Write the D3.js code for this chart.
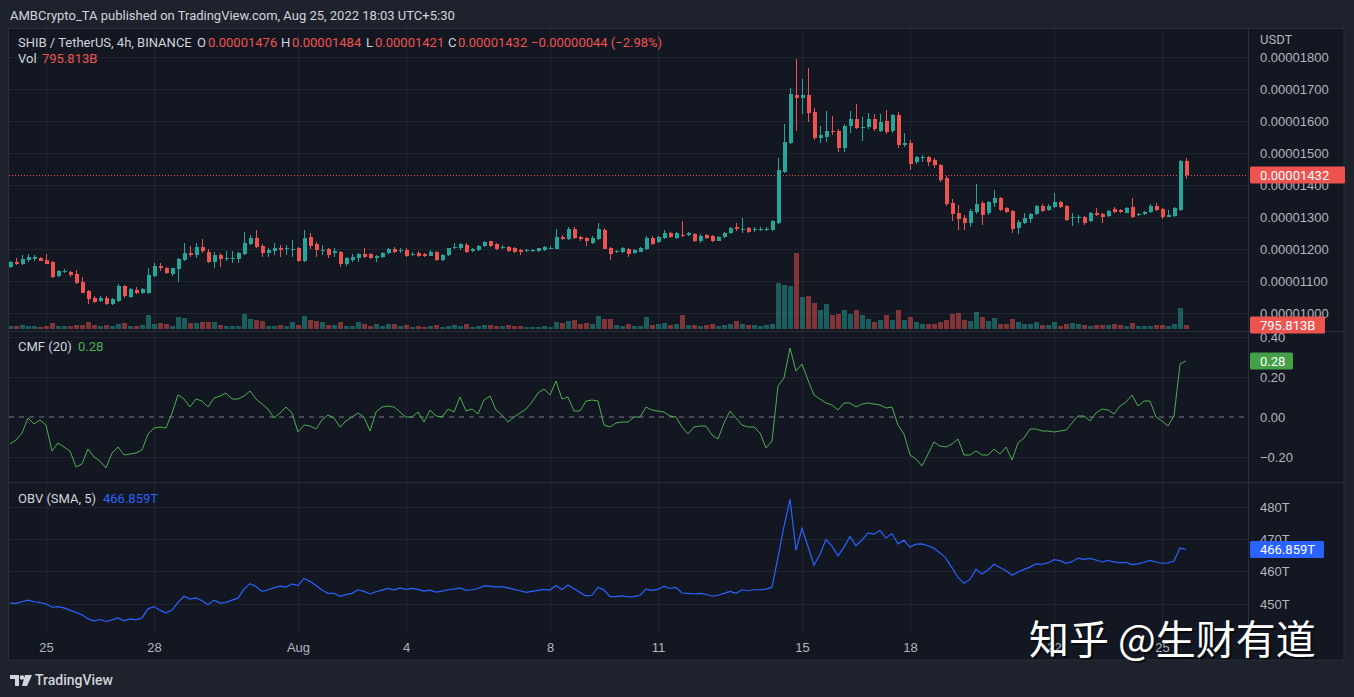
<!DOCTYPE html>
<html lang="en">
<head>
<meta charset="utf-8">
<title>SHIB / TetherUS 4h</title>
<script src="https://cdn.jsdelivr.net/npm/d3@7"></script>
<style>
  body { margin: 0; background: #1e222d; overflow: hidden; }
  svg { display: block; font-family: Roboto, "Noto Sans", sans-serif; }
  .axis text { fill: #b2b5be; font-size: 13px; }
  .axis path, .axis line { display: none; }
</style>
</head>
<body>
<svg id="chart" width="1354" height="697"></svg>
<script>
// 4h candles from Jul 24 2022 00:00 UTC, prices in units of 1e-8 USDT
var opens = [
  1143,1159,1152,1166,1170,1172,1166,1159,1116,1127,
  1128,1122,1098,1069,1048,1038,1046,1028,1039,1085,
  1051,1072,1062,1062,1117,1148,1140,1121,1138,1166,
  1187,1182,1208,1192,1161,1182,1170,1170,1169,1185,
  1216,1234,1211,1189,1195,1203,1200,1197,1203,1164,
  1237,1216,1194,1199,1189,1192,1152,1166,1171,1185,
  1184,1171,1174,1187,1200,
  1194,1197,1182,1187,1184,1179,1192,1166,1182,1203,1203,1213,1194,1197,1211,
  1224,1215,1203,1208,1203,1197,1194,1193,1195,1197,
  1202,1201,1239,1232,1262,1239,1236,1220,1232,1260,
  1203,1190,1190,1200,1187,1192,1201,1236,1221,1236,
  1250,1236,1244,1244,1246,1224,1244,1242,1227,1239,
  1250,1270,1260,1265,1259,1260,1261,1260,
  1283,1441,1532,1684,1672,1684,1630,1548,1551,1571,
  1569,1518,1585,1609,1579,1581,1609,1571,1602,1569,
  1620,1526,1532,1472,1486,1487,1478,1462,1423,1344,
  1313,1298,1283,1316,1344,
  1312,1343,1359,1328,1320,1265,1283,1294,1310,1335,
  1322,1333,1349,1335,1296,1297,1302,1289,1314,1310,
  1304,1325,1322,1314,1331,1307,1310,1317,1336,1326,
  1302,1305,1322,1476
];
var highs = [
  1164,1171,1182,1184,1182,1176,1185,1163,1135,1138,
  1133,1135,1114,1072,1053,1053,1053,1046,1090,1088,
  1077,1080,1077,1140,1156,1156,1143,1142,1171,1218,
  1210,1218,1231,1200,1192,1187,1194,1194,1192,1255,
  1244,1260,1215,1203,1218,1213,1213,1229,1208,1260,
  1250,1223,1213,1203,1203,1195,1174,1185,1189,1203,
  1187,1182,1192,1205,1208,
  1204,1203,1192,1194,1187,1197,1195,1184,1205,1218,1220,1218,1203,1213,1227,
  1227,1218,1212,1211,1206,1200,1199,1200,1205,1210,
  1210,1262,1244,1270,1270,1242,1239,1241,1283,1265,
  1208,1197,1206,1203,1200,1208,1242,1241,1241,1260,
  1255,1255,1289,1255,1250,1246,1248,1245,1242,1255,
  1268,1281,1297,1268,1268,1270,1270,1292,
  1484,1593,1703,1796,1733,1767,1642,1587,1633,1618,
  1575,1593,1633,1654,1614,1626,1624,1624,1636,1624,
  1630,1563,1541,1492,1496,1492,1484,1465,1429,1356,
  1338,1307,1326,1405,1350,
  1352,1385,1362,1333,1324,1290,1312,1313,1338,1340,
  1340,1377,1352,1338,1312,1307,1305,1317,1328,1312,
  1322,1333,1325,1331,1359,1314,1320,1340,1343,1328,
  1322,1331,1480,1484
];
var lows = [
  1140,1150,1150,1161,1163,1163,1152,1109,1114,1124,
  1114,1091,1062,1028,1032,1036,1025,1024,1036,1046,
  1048,1059,1060,1059,1114,1133,1121,1116,1096,1163,
  1176,1171,1187,1156,1142,1145,1163,1158,1156,1182,
  1213,1203,1174,1176,1182,1176,1182,1176,1161,1161,
  1200,1176,1182,1171,1176,1143,1148,1161,1159,1171,
  1168,1161,1171,1184,1189,
  1187,1174,1177,1174,1176,1177,1163,1164,1180,1200,1197,1187,1190,1194,1208,
  1208,1198,1200,1192,1187,1182,1190,1190,1192,1195,
  1199,1199,1230,1230,1233,1225,1210,1217,1230,1199,
  1166,1187,1187,1174,1184,1190,1197,1212,1218,1233,
  1236,1233,1238,1240,1222,1220,1233,1222,1224,1236,
  1247,1258,1250,1250,1255,1256,1257,1258,
  1280,1438,1528,1569,1624,1599,1541,1532,1536,1557,
  1504,1504,1563,1575,1538,1575,1569,1566,1560,1563,
  1517,1520,1447,1468,1472,1459,1453,1411,1334,1289,
  1259,1259,1268,1310,1277,
  1308,1333,1318,1312,1249,1247,1280,1281,1307,1317,
  1319,1330,1328,1288,1272,1281,1276,1286,1304,1281,
  1300,1314,1314,1312,1299,1305,1307,1314,1319,1294,
  1300,1302,1320,1421
];
var closes = [
  1159,1152,1169,1176,1174,1164,1154,1114,1133,1131,
  1119,1093,1064,1044,1036,1046,1028,1043,1086,1053,
  1074,1062,1075,1119,1148,1140,1124,1140,1169,1187,
  1182,1208,1194,1161,1182,1169,1173,1173,1187,1218,
  1234,1208,1187,1197,1203,1197,1202,1200,1164,1234,
  1211,1197,1197,1182,1194,1152,1171,1176,1185,1176,
  1171,1180,1189,1200,1192,
  1197,1180,1185,1180,1179,1192,1166,1182,1203,1208,1215,1190,1199,1210,1223,
  1211,1201,1208,1194,1190,1192,1196,1197,1203,1206,
  1205,1239,1232,1262,1236,1231,1224,1236,1263,1201,
  1185,1194,1203,1184,1197,1205,1236,1215,1238,1252,
  1239,1250,1241,1250,1226,1242,1236,1226,1239,1252,
  1265,1262,1262,1255,1262,1263,1264,1289,
  1447,1536,1687,1672,1684,1626,1548,1557,1571,1566,
  1518,1587,1609,1579,1583,1609,1575,1599,1566,1620,
  1526,1532,1468,1487,1490,1472,1462,1417,1341,1310,
  1293,1283,1320,1340,1307,
  1349,1359,1322,1317,1262,1286,1296,1310,1335,1320,
  1336,1346,1331,1291,1300,1302,1283,1314,1307,1302,
  1319,1317,1317,1328,1302,1310,1317,1336,1322,1300,
  1307,1328,1477,1432
];
// volume, billions SHIB
var volumes = [
  540,540,800,540,540,400,540,1140,540,540,
  660,800,860,1340,860,660,800,660,1000,1200,
  660,660,860,2800,1000,1140,1000,660,2340,2140,
  1140,1140,1340,1340,1460,860,660,660,660,3000,
  2000,1800,1660,660,660,800,660,1340,860,2540,
  1860,1540,1340,860,860,1340,660,660,1340,940,
  660,1000,660,1000,1000,
  600,800,460,600,460,600,800,460,600,800,600,940,460,600,800,
  800,660,540,800,660,660,460,460,460,540,
  460,1340,1140,1660,1800,1000,1140,1000,2660,2000,
  2000,800,660,1000,540,660,2460,800,1000,1140,
  800,1000,2800,800,800,540,800,1000,660,800,
  1000,1540,1000,800,800,660,800,1000,
  9320,8780,8700,15300,6450,6600,5200,3730,5050,2870,
  3100,3880,3100,3880,2720,2100,1320,1790,2870,1790,
  3880,1790,2490,1320,1010,1010,1010,1320,1790,3100,
  3260,1790,1550,3420,2490,
  1670,2130,1000,1000,2000,1330,1000,1000,1330,870,
  870,1470,670,1000,1200,1000,870,670,870,870,
  870,1000,870,670,1200,670,670,670,870,870,
  670,1000,4200,795.813
];
var cmf = [
  -0.135,-0.115,-0.08,-0.005,-0.035,-0.015,-0.04,-0.17,-0.13,-0.15,
  -0.17,-0.25,-0.235,-0.16,-0.2,-0.22,-0.255,-0.18,-0.15,-0.19,
  -0.185,-0.18,-0.165,-0.085,-0.055,-0.05,-0.055,0.02,0.11,0.09,
  0.05,0.09,0.08,0.05,0.095,0.105,0.12,0.09,0.09,0.105,
  0.13,
  0.09,0.065,0.04,-0.005,0.02,0.05,0.02,-0.075,-0.04,-0.045,
  -0.06,-0.015,0.01,-0.005,-0.05,-0.02,0.0,0.02,0.0,-0.07,
  0.025,0.05,0.055,0.05,0.025,0.0,0.0,0.025,-0.025,0.035,
  0.005,0.0,0.04,0.025,0.1,0.03,0.04,0.015,0.085,0.105,
  0.035,0.01,-0.025,0.0,0.02,0.04,0.075,0.12,0.14,0.11,
  0.18,0.09,0.1,0.03,0.03,0.08,0.085,0.08,-0.04,-0.05,
  -0.03,-0.025,-0.025,0.0,0.0,0.05,0.035,0.03,0.025,0.005,
  0.0,-0.05,-0.085,-0.05,-0.045,-0.045,-0.09,-0.11,-0.03,0.03,
  -0.005,-0.04,-0.05,-0.05,-0.08,-0.155,-0.12,0.155,0.195,
  0.345,0.23,0.265,0.185,0.11,0.09,0.07,0.06,0.035,0.07,
  0.07,0.05,0.065,0.07,0.065,0.06,0.045,0.05,-0.04,-0.085,
  -0.19,-0.21,-0.245,-0.185,-0.125,-0.145,-0.15,-0.135,-0.11,-0.19,
  -0.19,-0.17,-0.19,
  -0.19,-0.16,-0.185,-0.15,-0.215,-0.13,-0.105,-0.06,-0.06,-0.07,
  -0.07,-0.075,-0.07,-0.065,-0.03,0.005,0.005,-0.02,0.02,0.04,
  0.035,0.015,0.055,0.075,0.11,0.055,0.08,0.08,0.0,-0.02,
  -0.045,0.005,0.265,0.28
];
// OBV (SMA 5), trillions
var obv = [
  450.3,450.2,450.7,451.2,450.7,450.5,450,449,449.2,448.8,
  448.1,447.4,446.7,445.4,444.8,445.2,444.6,445.1,445.7,444.8,
  445.4,445.1,445.7,448.5,449.2,448.1,447.2,448.1,450.5,452.4,
  451.5,451.9,451,449.8,451.2,450.3,450.5,451.2,451.8,454.6,
  456.3,
  455.4,453.9,454.4,455.0,455.5,455.2,456.2,455.7,457.9,457.0,
  455.7,454.3,453.3,453.3,452.4,452.9,453.3,454.4,453.9,453.1,
  453.8,454.3,454.8,454.4,455.0,454.5,454.8,454.5,454.0,454.3,
  453.7,454.0,454.4,454.6,455.0,454.2,454.4,454.8,455.6,455.5,
  455.2,455.4,455.0,454.5,454.1,453.6,453.9,454.2,454.5,454.3,
  455.7,454.5,455.9,454.7,453.6,452.5,452.7,455.2,454.3,452.3,
  452.3,452.5,452.2,452.3,452.7,454.6,454.2,454.5,455.5,454.8,
  455.1,453.4,453.3,453.1,453.3,453.0,452.4,452.7,453.3,453.9,
  453.3,454.4,454.1,454.4,454.4,454.6,455.2,
  464.5,474.0,482.4,466.6,473.4,467.8,462.0,465.4,470.0,467.9,
  464.9,467.6,470.9,468.0,469.8,472.0,471.6,472.7,470.4,471.8,
  468.6,469.7,467.6,468.5,468.6,468.0,467.2,465.8,464.1,461.2,
  458.2,456.4,457.6,460.8,459.3,
  460.5,462.3,461.3,460.3,458.9,459.9,460.7,461.4,462.4,462.3,
  462.7,463.7,463.4,462.6,463.1,464.2,463.8,464.1,463.6,463.0,
  463.5,463.0,462.7,462.9,462.2,462.4,462.9,463.5,463.0,462.6,
  462.7,463.3,467.3,466.859
];

var priceTicks = [1000,1100,1200,1300,1400,1500,1600,1700,1800];
var cmfTicks = [-0.2,0,0.2,0.4];
var cmfTickLabels = ["\u22120.20","0.00","0.20","0.40"];
var obvTicks = [450,460,470,480];
var timeTicks = [Date.UTC(2022,6,25),Date.UTC(2022,6,28),Date.UTC(2022,7,1),Date.UTC(2022,7,4),
  Date.UTC(2022,7,8),Date.UTC(2022,7,11),Date.UTC(2022,7,15),Date.UTC(2022,7,18),
  Date.UTC(2022,7,22),Date.UTC(2022,7,25)];
var timeLabels = ["25","28","Aug","4","8","11","15","18","22","25"];

var upColor = "#26a69a", downColor = "#ef5350";
var upVol = "rgba(38,166,154,0.5)", downVol = "rgba(239,83,80,0.5)";
var textColor = "#d1d4dc", gridColor = "#20242f", lineColor = "#2a2e39";

var plotL = 9, plotR = 1248, frameR = 1344;
var mainTop = 29, mainBot = 331, cmfBot = 482, obvBot = 632, frameBot = 660;

var t0 = Date.UTC(2022, 6, 24, 0);
var dates = closes.map(function(d, i) { return new Date(t0 + i * 4 * 3600 * 1000); });

var x = d3.scaleUtc().domain([new Date(timeTicks[0]), new Date(timeTicks[9])]).range([46, 1162]);
var y = d3.scaleLinear().domain([1000, 1800]).range([313, 57.5]);
var yVol = d3.scaleLinear().domain([0, 15300]).range([329, 253]);
var yCmf = d3.scaleLinear().domain([-0.2, 0.2]).range([457, 377]);
var yObv = d3.scaleLinear().domain([450, 480]).range([604, 507]);

var svg = d3.select("#chart");

// title
svg.append("text").attr("x", 10).attr("y", 20).attr("fill", textColor)
  .attr("font-size", "13px")
  .text("AMBCrypto_TA published on TradingView.com, Aug 25, 2022 18:03 UTC+5:30");

// chart frame
svg.append("rect").attr("x", 8.5).attr("y", 28.5).attr("width", frameR - 8.5).attr("height", frameBot - 28.5)
  .attr("fill", "#131722").attr("stroke", lineColor);

var defs = svg.append("defs");
function clip(id, top, bot) {
  defs.append("clipPath").attr("id", id).append("rect")
    .attr("x", plotL).attr("y", top).attr("width", plotR - plotL).attr("height", bot - top);
}
clip("cMain", mainTop, mainBot);
clip("cCmf", mainBot, cmfBot);
clip("cObv", cmfBot, obvBot);

// grid
var grid = svg.append("g").attr("shape-rendering", "crispEdges").attr("stroke", gridColor);
timeTicks.forEach(function(t) {
  grid.append("line").attr("x1", Math.round(x(t)) + 0.5).attr("x2", Math.round(x(t)) + 0.5)
    .attr("y1", mainTop).attr("y2", obvBot);
});
priceTicks.forEach(function(v) {
  grid.append("line").attr("x1", plotL).attr("x2", plotR).attr("y1", y(v)).attr("y2", y(v));
});
[-0.2, 0.2, 0.4].forEach(function(v) {
  grid.append("line").attr("x1", plotL).attr("x2", plotR).attr("y1", yCmf(v)).attr("y2", yCmf(v));
});
obvTicks.forEach(function(v) {
  grid.append("line").attr("x1", plotL).attr("x2", plotR).attr("y1", yObv(v)).attr("y2", yObv(v));
});

// pane separators
var sep = svg.append("g").attr("stroke", lineColor).attr("shape-rendering", "crispEdges");
sep.append("line").attr("x1", plotL).attr("x2", frameR).attr("y1", mainBot + 0.5).attr("y2", mainBot + 0.5);
sep.append("line").attr("x1", plotL).attr("x2", frameR).attr("y1", cmfBot + 0.5).attr("y2", cmfBot + 0.5);
sep.append("line").attr("x1", plotR + 0.5).attr("x2", plotR + 0.5).attr("y1", mainTop).attr("y2", frameBot);

// volume
var idx = d3.range(closes.length);
var main = svg.append("g").attr("clip-path", "url(#cMain)");
main.append("g").attr("shape-rendering", "crispEdges").selectAll("rect").data(idx).enter().append("rect")
  .attr("x", function(i) { return Math.round(x(dates[i])) - 2; })
  .attr("width", 5)
  .attr("y", function(i) { return yVol(volumes[i]); })
  .attr("height", function(i) { return yVol(0) - yVol(volumes[i]); })
  .attr("fill", function(i) { return closes[i] >= opens[i] ? upVol : downVol; });

// last price line
main.append("line").attr("x1", plotL).attr("x2", plotR)
  .attr("y1", Math.round(y(1432)) + 0.5).attr("y2", Math.round(y(1432)) + 0.5)
  .attr("stroke", downColor).attr("stroke-dasharray", "1,2");

// candles
var candles = main.append("g").attr("shape-rendering", "crispEdges").selectAll("g").data(idx).enter().append("g");
candles.append("line")
  .attr("x1", function(i) { return Math.round(x(dates[i])) + 0.5; })
  .attr("x2", function(i) { return Math.round(x(dates[i])) + 0.5; })
  .attr("y1", function(i) { return y(highs[i]); })
  .attr("y2", function(i) { return y(lows[i]); })
  .attr("stroke", function(i) { return closes[i] >= opens[i] ? upColor : downColor; });
candles.append("rect")
  .attr("x", function(i) { return Math.round(x(dates[i])) - 1; })
  .attr("width", 4)
  .attr("y", function(i) { return y(Math.max(opens[i], closes[i])); })
  .attr("height", function(i) { return Math.max(1, Math.abs(y(opens[i]) - y(closes[i]))); })
  .attr("fill", function(i) { return closes[i] >= opens[i] ? upColor : downColor; });

// CMF
var cmfG = svg.append("g").attr("clip-path", "url(#cCmf)");
cmfG.append("line").attr("x1", plotL).attr("x2", plotR).attr("y1", yCmf(0)).attr("y2", yCmf(0))
  .attr("stroke", "#787b86").attr("stroke-dasharray", "5,5");
cmfG.append("path").datum(idx)
  .attr("d", d3.line().x(function(i) { return x(dates[i]); }).y(function(i) { return yCmf(cmf[i]); }))
  .attr("fill", "none").attr("stroke", "#4caf50").attr("stroke-width", 1);

// OBV
var obvG = svg.append("g").attr("clip-path", "url(#cObv)");
obvG.append("path").datum(idx)
  .attr("d", d3.line().x(function(i) { return x(dates[i]); }).y(function(i) { return yObv(obv[i]); }))
  .attr("fill", "none").attr("stroke", "#2962ff").attr("stroke-width", 1.2);

// right axes
var fmtPrice = function(v) { return d3.format(".8f")(v * 1e-8); };
svg.append("g").attr("class", "axis").attr("transform", "translate(" + plotR + ",0)")
  .call(d3.axisRight(y).tickValues(priceTicks).tickFormat(fmtPrice).tickSize(0).tickPadding(12));
svg.append("g").attr("class", "axis").attr("transform", "translate(" + plotR + ",0)")
  .call(d3.axisRight(yCmf).tickValues(cmfTicks).tickFormat(function(d, i) { return cmfTickLabels[i]; })
    .tickSize(0).tickPadding(12));
svg.append("g").attr("class", "axis").attr("transform", "translate(" + plotR + ",0)")
  .call(d3.axisRight(yObv).tickValues(obvTicks).tickFormat(function(d) { return d + "T"; })
    .tickSize(0).tickPadding(12));
svg.append("text").attr("x", 1260).attr("y", 44).attr("fill", "#b2b5be").attr("font-size", "13px").text("USDT");

// time axis
svg.append("g").attr("class", "axis").attr("transform", "translate(0," + (obvBot + 2) + ")")
  .call(d3.axisBottom(x).tickValues(timeTicks.map(function(t) { return new Date(t); }))
    .tickFormat(function(d, i) { return timeLabels[i]; }).tickSize(0).tickPadding(9));

// value tags on the scale
function tag(yc, w, fill, label) {
  svg.append("rect").attr("x", 1250).attr("y", yc - 8.5).attr("width", w).attr("height", 17)
    .attr("rx", 1.5).attr("fill", fill);
  svg.append("text").attr("x", 1260).attr("y", yc).attr("dy", "0.35em").attr("fill", "#ffffff")
    .attr("font-size", "13px").text(label);
}
tag(y(1432), 95, downColor, fmtPrice(1432));
tag(yVol(volumes[volumes.length - 1]), 75, downColor, "795.813B");
tag(yCmf(cmf[cmf.length - 1]), 43, "#43a047", "0.28");
tag(yObv(obv[obv.length - 1]), 74, "#2962ff", "466.859T");

// legends
function legend(yb, parts) {
  var t = svg.append("text").attr("y", yb).attr("font-size", "13px");
  parts.forEach(function(p) {
    t.append("tspan").attr("x", p[0]).attr("fill", p[2]).text(p[1]);
  });
}
legend(47, [
  [18, "SHIB / TetherUS, 4h, BINANCE", textColor],
  [197, "O", textColor], [208, "0.00001476", downColor],
  [281, "H", textColor], [292, "0.00001484", downColor],
  [366, "L", textColor], [375, "0.00001421", downColor],
  [448, "C", textColor], [458, "0.00001432", downColor],
  [531, "\u22120.00000044 (\u22122.98%)", downColor]
]);
legend(63, [[18, "Vol", textColor], [42, "795.813B", downColor]]);
legend(351, [[18, "CMF (20)", textColor], [78, "0.28", "#4caf50"]]);
legend(503, [[18, "OBV (SMA, 5)", textColor], [103, "466.859T", "#2962ff"]]);

// footer logo
var logo = svg.append("g").attr("fill", textColor);
logo.append("path").attr("d", "M10 675 h9 v11 h-4 v-7 h-5 z");
logo.append("circle").attr("cx", 22).attr("cy", 677.5).attr("r", 2.3);
logo.append("path").attr("d", "M25 675 h7 l-5 11 h-5 z");
svg.append("text").attr("x", 35).attr("y", 685).attr("fill", textColor)
  .attr("font-size", "14px").attr("font-weight", 500).text("TradingView");

// watermark
svg.append("text").attr("x", 1029).attr("y", 654)
  .attr("font-family", "'Noto Sans CJK SC', sans-serif").attr("font-size", "40px")
  .attr("fill", "#000").attr("opacity", 0.5).attr("transform", "translate(2,2)")
  .text("知乎 @生财有道");
svg.append("text").attr("x", 1029).attr("y", 654)
  .attr("font-family", "'Noto Sans CJK SC', sans-serif").attr("font-size", "40px")
  .attr("fill", "#ffffff").text("知乎 @生财有道");
</script>
</body>
</html>
